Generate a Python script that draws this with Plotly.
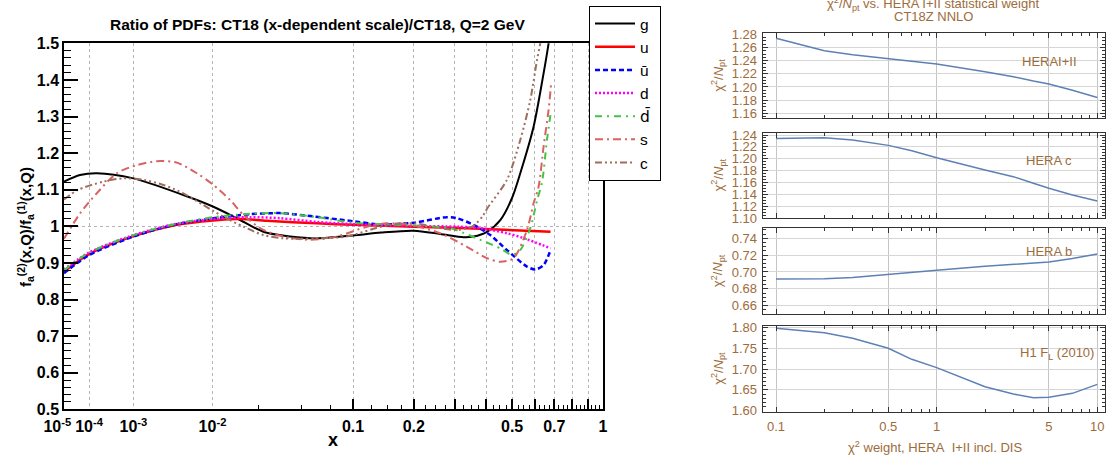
import numpy as np
import plotly.graph_objects as go

W, H = 1107, 459

# ---------------- left panel data (x, ratio) ----------------
g_x = [1e-5, 5.04e-5, 1.67e-4, 1e-3, 4.95e-3, 0.0102, 0.0166, 0.027, 0.0418, 0.062, 0.1, 0.14, 0.2,
       0.2613, 0.3263, 0.3576, 0.4031, 0.4524, 0.5, 0.5348, 0.5955, 0.6444, 0.67, 0.69]
g_y = [1.122, 1.140, 1.145, 1.131, 1.0855, 1.0535, 1.022, 0.985, 0.972, 0.967, 0.975, 0.983, 0.988,
       0.979, 0.970, 0.972, 0.985, 1.017, 1.078, 1.145, 1.272, 1.418, 1.5, 1.58]

u_x = [1e-5, 1e-4, 1e-3, 4.14e-3, 0.0102, 0.0177, 0.0286, 0.062, 0.1, 0.2, 0.337, 0.68]
u_y = [0.876, 0.924, 0.973, 1.004, 1.016, 1.020, 1.015, 1.008, 1.004, 0.999, 0.995, 0.985]

ub_x = [1e-5, 1e-4, 1e-3, 4.14e-3, 0.0102, 0.0213, 0.0357, 0.0487, 0.1, 0.1383, 0.2, 0.2789,
        0.3068, 0.3576, 0.4149, 0.4788, 0.5647, 0.6036, 0.6444, 0.68]
ub_y = [0.872, 0.921, 0.972, 1.006, 1.022, 1.033, 1.036, 1.031, 1.014, 1.005, 1.010, 1.025,
        1.022, 1.004, 0.976, 0.935, 0.890, 0.882, 0.894, 0.935]

d_x = [1e-5, 1e-4, 1e-3, 4.14e-3, 0.0102, 0.0213, 0.0357, 0.062, 0.1, 0.2, 0.3068, 0.3799,
       0.4788, 0.548, 0.68]
d_y = [0.882, 0.928, 0.976, 1.007, 1.020, 1.025, 1.022, 1.012, 1.006, 1.001, 0.999, 0.995,
       0.981, 0.968, 0.940]

db_x = [1e-5, 1e-4, 1e-3, 4.14e-3, 0.0102, 0.0213, 0.0357, 0.062, 0.1, 0.2, 0.2879, 0.3263,
        0.3799, 0.4524, 0.4993, 0.5348, 0.58, 0.6118, 0.6364, 0.6617, 0.6825]
db_y = [0.880, 0.928, 0.976, 1.007, 1.025, 1.034, 1.036, 1.025, 1.010, 1.002, 0.995, 0.982,
        0.963, 0.940, 0.922, 0.935, 0.995, 1.07, 1.12, 1.236, 1.315]

s_x = [1e-5, 5.04e-5, 1.66e-4, 4.87e-4, 1.136e-3, 2.285e-3, 4.14e-3, 6.95e-3, 0.0102, 0.0145,
       0.0188, 0.027, 0.0376, 0.0563, 0.0813, 0.1184, 0.1493, 0.1925, 0.2613, 0.3367, 0.4031,
       0.4524, 0.506, 0.5647, 0.5955, 0.6196, 0.6444, 0.67, 0.6825]
s_y = [0.966, 1.035, 1.090, 1.145, 1.167, 1.178, 1.174, 1.145, 1.113, 1.072,
       1.031, 0.990, 0.972, 0.963, 0.972, 0.999, 1.008, 1.004, 0.981, 0.944, 0.913,
       0.903, 0.913, 0.990, 1.063, 1.108, 1.218, 1.318, 1.386]

c_x = [1e-5, 4.1e-5, 2.45e-4, 6.57e-4, 1.451e-3, 2.808e-3, 4.949e-3, 8.13e-3, 0.01264, 0.01882,
       0.02701, 0.03763, 0.062, 0.0914, 0.15, 0.2, 0.2613, 0.30, 0.33, 0.36, 0.39, 0.405,
       0.4788, 0.5348, 0.58, 0.6118, 0.628, 0.65]
c_y = [1.073, 1.099, 1.122, 1.131, 1.127, 1.113, 1.090, 1.058, 1.026, 0.999,
       0.976, 0.967, 0.967, 0.972, 1.003, 1.008, 0.995, 0.990, 0.993, 1.003, 1.03, 1.05,
       1.127, 1.236, 1.345, 1.454, 1.5, 1.58]

x_lab_vals = [1e-5, 1e-4, 1e-3, 1e-2, 0.1, 0.2, 0.5, 0.7, 1.0]
x_lab_text = ["10<sup>-5</sup>\u00a0\u00a0\u00a0", "10<sup>-4</sup>", "10<sup>-3</sup>",
              "10<sup>-2</sup>", "0.1", "0.2", "0.5", "0.7", "1"]
y_lab_vals = [0.5, 0.6, 0.7, 0.8, 0.9, 1.0, 1.1, 1.2, 1.3, 1.4, 1.5]
y_lab_text = ["0.5", "0.6", "0.7", "0.8", "0.9", "1", "1.1", "1.2", "1.3", "1.4", "1.5"]
grid_major = [0.1, 0.2, 0.3, 0.4, 0.5, 0.6, 0.7, 0.8, 0.9]
grid_small = [1e-4, 1e-3, 1e-2]
minor_ticks = [0.025 * k for k in range(1, 40)]

# ---------------- right panel data ----------------
w_x = [0.1, 0.2, 0.3, 0.5, 0.7, 1, 2, 3, 4, 5, 7, 10]
hera12 = [1.274, 1.255, 1.249, 1.2435, 1.239, 1.235, 1.223, 1.2156, 1.209, 1.2045, 1.195, 1.184]
herac = [1.234, 1.2355, 1.2316, 1.2226, 1.2137, 1.2017, 1.1812, 1.170, 1.1588, 1.1504, 1.1392, 1.129]
herab = [0.6917, 0.692, 0.6935, 0.6968, 0.699, 0.702, 0.7067, 0.709, 0.7107, 0.7119, 0.716, 0.7214]
h1fl = [1.7976, 1.787, 1.7736, 1.7496, 1.7232, 1.7032, 1.6576, 1.640, 1.6312, 1.632, 1.6416, 1.6632]
w_ticks = [0.1, 0.5, 1, 5, 10]
w_minor = [0.2, 0.3, 0.4, 0.6, 0.7, 0.8, 0.9, 2, 3, 4, 6, 7, 8, 9]


def fx(v):
    """x-axis scale of the left panel: x^(1/4)"""
    return (np.asarray(v, dtype=float) ** 0.25).tolist()


def px(v):
    return v / W


def py(v):
    return 1 - v / H


fig = go.Figure()

dbar = "<span style='font-family:DejaVu Sans'>d\u0304</span>"
nb = "\u00a0"
styles = [
    ("g", g_x, g_y, "black", 2, "solid"),
    ("u", u_x, u_y, "#ff0000", 2.5, "solid"),
    ("\u016b", ub_x, ub_y, "#0000ff", 2.5, "5px,3px"),
    ("d", d_x, d_y, "#ff00ff", 2.5, "2px,2px"),
    (dbar, db_x, db_y, "#44c444", 2, "7px,5px,2px,5px"),
    ("s", s_x, s_y, "#d86262", 2, "8px,4px,2px,4px"),
    ("c", c_x, c_y, "#9e6e5e", 2, "7px,3px,2px,3px,2px,3px,2px,3px"),
]
for name, xs, ys, col, lw, dash in styles:
    fig.add_trace(go.Scatter(x=fx(xs), y=ys, mode="lines", name=name + nb,
                             line=dict(color=col, width=lw, dash=dash, shape="spline", smoothing=0.8),
                             xaxis="x", yaxis="y"))

# overlay subplot carrying the grid
fig.add_trace(go.Scatter(x=[None], y=[None], xaxis="x2", yaxis="y2", showlegend=False, hoverinfo="skip"))

rcol = "#5e81b5"
panels = [(hera12, "3"), (herac, "4"), (herab, "5"), (h1fl, "6")]
for ys, k in panels:
    fig.add_trace(go.Scatter(x=w_x, y=ys, mode="lines", showlegend=False,
                             line=dict(color=rcol, width=1.5), xaxis="x" + k, yaxis="y" + k))

bold = dict(family="Liberation Sans, Arial", size=16, color="black", weight="bold")
xr = [fx([1e-5])[0], 1.0]
xdom = [px(64), px(603)]
ydom = [py(409.3), py(43.3)]
gridc = "#b4b4b4"

layout = dict(
    template="none",
    width=W, height=H, margin=dict(l=0, r=0, t=0, b=0, pad=0),
    paper_bgcolor="white", plot_bgcolor="rgba(0,0,0,0)",
    showlegend=True,
    legend=dict(x=px(589), y=py(6), xanchor="left", yanchor="top", bgcolor="white",
                bordercolor="black", borderwidth=1,
                font=dict(family="Liberation Sans, Arial", size=15.5, color="black"),
                tracegroupgap=0, itemwidth=40),
    xaxis=dict(domain=xdom, range=xr, anchor="y", tickmode="array", automargin=False,
               tickvals=fx(x_lab_vals), ticktext=x_lab_text, ticks="", showgrid=False,
               zeroline=False, showline=True, mirror=True, linecolor="black", linewidth=1.5,
               tickfont=bold, ticklabelstandoff=2, tickangle=0,
               minor=dict(tickmode="array", tickvals=fx(minor_ticks), ticks="inside", ticklen=5,
                          tickcolor="black", tickwidth=1, showgrid=False)),
    yaxis=dict(domain=ydom, range=[0.5, 1.5], anchor="x", tickmode="array", automargin=False,
               tickvals=y_lab_vals, ticktext=y_lab_text, ticks="inside", ticklen=14,
               tickwidth=1.5, tickcolor="black", showgrid=False, zeroline=False,
               showline=True, mirror=True, linecolor="black", linewidth=1.5, tickfont=bold,
               minor=dict(dtick=0.02, tick0=0.5, ticks="inside", ticklen=7, tickcolor="black",
                          tickwidth=1, showgrid=False)),
    xaxis2=dict(overlaying="x", range=xr, anchor="y2", tickmode="array", tickvals=fx(grid_major),
                ticks="inside", ticklen=10, tickwidth=1.5, tickcolor="black", showticklabels=False,
                showgrid=True, gridcolor=gridc, griddash="dot", gridwidth=1, zeroline=False,
                showline=False, automargin=False,
                minor=dict(tickmode="array", tickvals=fx(grid_small), ticks="", showgrid=True,
                           gridcolor=gridc, griddash="dot", gridwidth=1)),
    yaxis2=dict(overlaying="y", range=[0.5, 1.5], anchor="x2", tickmode="array", tickvals=[1.0],
                ticks="", showticklabels=False, showgrid=True, gridcolor=gridc, automargin=False,
                griddash="dot", gridwidth=1, zeroline=False, showline=False),
)

rfont = dict(family="Liberation Sans, Arial", size=13, color="#9d6c3b")
rx_dom = [px(762.7), px(1105)]
rx_range = [-1.083, 1.048]
ydoms = [(33.3, 118.3), (132.7, 218.3), (228.3, 314.0), (326.0, 411.7)]
yranges = [[1.1524, 1.2815], [1.10, 1.2439], [0.6501, 0.7519], [1.5976, 1.8031]]
yticks = [[1.16, 1.18, 1.20, 1.22, 1.24, 1.26, 1.28],
          [1.10, 1.12, 1.14, 1.16, 1.18, 1.20, 1.22, 1.24],
          [0.66, 0.68, 0.70, 0.72, 0.74],
          [1.60, 1.65, 1.70, 1.75, 1.80]]
yminor = [0.005, 0.005, 0.005, 0.01]
for i, k in enumerate(["3", "4", "5", "6"]):
    top, bot = ydoms[i]
    layout["xaxis" + k] = dict(
        domain=rx_dom, type="log", range=rx_range, anchor="y" + k, tickmode="array",
        tickvals=w_ticks, ticktext=["0.1", "0.5", "1", "5", "10"], showticklabels=(k == "6"),
        ticks="inside", ticklen=5, tickcolor="#333", mirror="ticks", showline=True,
        linecolor="#333", linewidth=1, showgrid=True, gridcolor="#c4c4c4", gridwidth=1,
        zeroline=False, tickfont=rfont, ticklabelstandoff=3, automargin=False, tickangle=0,
        minor=dict(tickmode="array", tickvals=w_minor, ticks="inside", ticklen=3,
                   tickcolor="#333", showgrid=False))
    layout["yaxis" + k] = dict(
        domain=[py(bot), py(top)], range=yranges[i], anchor="x" + k, tickmode="array",
        tickvals=yticks[i], tickformat=".2f", ticks="inside", ticklen=5, tickcolor="#333",
        mirror="ticks", showline=True, linecolor="#333", linewidth=1, showgrid=True,
        gridcolor="#d6d6d6", gridwidth=1, zeroline=False, tickfont=rfont, ticklabelstandoff=2,
        automargin=False,
        minor=dict(dtick=yminor[i], ticks="inside", ticklen=3, tickcolor="#333", showgrid=False))

chi = "\u03c7<sup>2</sup>/<i>N</i><sub>pt</sub>"
ann = [
    dict(x=px(317), y=py(25), text="<b>Ratio of PDFs: CT18 (x-dependent scale)/CT18, Q=2 GeV</b>",
         font=dict(family="Liberation Sans, Arial", size=15.5, color="black")),
    dict(x=px(25), y=py(227), textangle=-90,
         text="<b>f<sub>a</sub><sup>(2)</sup>(x,Q)/f<sub>a</sub><sup>(1)</sup>(x,Q)</b>",
         font=dict(family="Liberation Sans, Arial", size=15, color="black")),
    dict(x=px(333), y=py(440), text="<b>x</b>",
         font=dict(family="Liberation Sans, Arial", size=18, color="black")),
    dict(x=px(933), y=py(4), text="\u03c7<sup>2</sup>/<i>N</i><sub>pt</sub> vs. HERA I+II statistical weight",
         font=rfont),
    dict(x=px(933), y=py(17), text="CT18Z NNLO", font=rfont),
    dict(x=px(1049), y=py(61), text="HERAI+II", font=rfont),
    dict(x=px(1049), y=py(160), text="HERA c", font=rfont),
    dict(x=px(1049), y=py(251), text="HERA b", font=rfont),
    dict(x=px(1057), y=py(353), text="H1 F<sub>L</sub> (2010)", font=rfont),
    dict(x=px(935), y=py(446.7), text="\u03c7<sup>2</sup> weight, HERA\u00a0\u00a0I+II incl. DIS",
         font=rfont),
]
for top, bot in ydoms:
    ann.append(dict(x=px(718), y=py((top + bot) / 2), text=chi, textangle=-90, font=rfont))
for a in ann:
    a.update(xref="paper", yref="paper", showarrow=False, xanchor="center", yanchor="middle")
layout["annotations"] = ann

fig.update_layout(**layout)
fig.write_html("out.html", config={"displayModeBar": False},
               post_script="document.body.style.margin='0px';document.body.style.overflow='hidden';")
